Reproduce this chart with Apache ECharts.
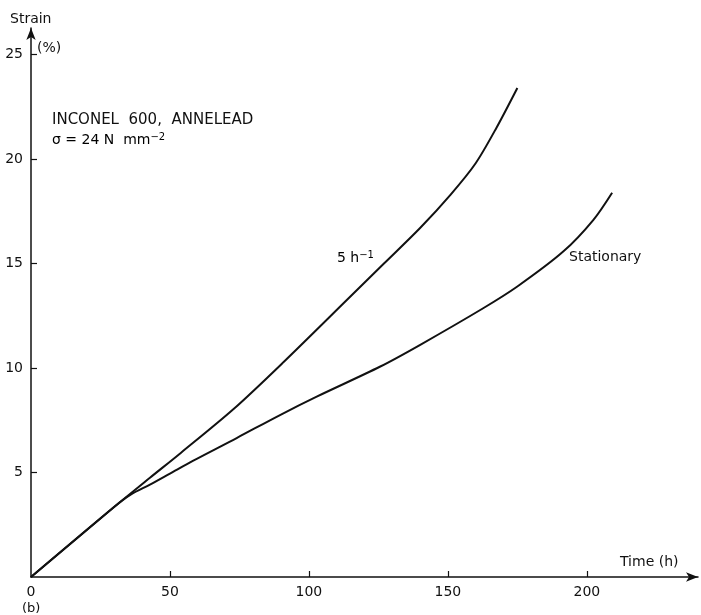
<!DOCTYPE html>
<html>
<head>
<meta charset="utf-8">
<script src="https://cdn.jsdelivr.net/npm/echarts@6/dist/echarts.min.js"></script>
<style>
html,body{margin:0;padding:0;background:#fff;}
#chart{width:701px;height:615px;}
</style>
</head>
<body>
<div id="chart"></div>
<script>
// Data
const timeFast   = [0, 30, 42.8, 54, 73, 91, 114, 127, 140, 151, 160, 167.5, 175];
const strainFast = [0, 3.36, 4.75, 5.95, 8.05, 10.3, 13.3, 15.0, 16.7, 18.3, 19.8, 21.5, 23.4];
const timeStat   = [0, 30, 36, 42.8, 50, 58.4, 74, 89.6, 102.8, 125.5, 139.9, 162.7, 175, 191.5, 202.3, 209.1];
const strainStat = [0, 3.36, 3.95, 4.42, 4.95, 5.57, 6.65, 7.75, 8.63, 10.06, 11.1, 12.86, 13.9, 15.57, 17.08, 18.39];
const xTickValues = [0, 50, 100, 150, 200];
const yTickValues = [5, 10, 15, 20, 25];

const FONT = 'DejaVu Sans';
const pair = (xs, ys) => xs.map((x, i) => [x, ys[i]]);

const chart = echarts.init(document.getElementById('chart'), null, {renderer: 'canvas'});
chart.setOption({
  animation: false,
  backgroundColor: '#fff',
  grid: {left: 31, right: 3, top: 28, bottom: 38, containLabel: false},
  xAxis: {
    type: 'value', min: 0, max: 240,
    axisLine: {show: true, symbol: ['none', 'arrow'], symbolSize: [7, 12], lineStyle: {color: '#111', width: 1.5}},
    axisTick: {show: true, inside: true, length: 6, customValues: [50, 100, 150, 200], lineStyle: {color: '#111', width: 1.2}},
    axisLabel: {customValues: xTickValues, color: '#111', fontFamily: FONT, fontSize: 14, margin: 8},
    splitLine: {show: false}
  },
  yAxis: {
    type: 'value', min: 0, max: 26.27,
    axisLine: {show: true, symbol: ['none', 'arrow'], symbolSize: [7, 12], lineStyle: {color: '#111', width: 1.5}},
    axisTick: {show: true, inside: true, length: 6, customValues: yTickValues, lineStyle: {color: '#111', width: 1.2}},
    axisLabel: {customValues: yTickValues, color: '#111', fontFamily: FONT, fontSize: 14, margin: 8},
    splitLine: {show: false}
  },
  series: [
    {name: '5 h-1', type: 'line', data: pair(timeFast, strainFast), smooth: 0.3, showSymbol: false,
     lineStyle: {color: '#111', width: 2}},
    {name: 'Stationary', type: 'line', data: pair(timeStat, strainStat), smooth: 0.3, showSymbol: false,
     lineStyle: {color: '#111', width: 2}}
  ],
  graphic: [
    {type: 'text', left: 10, top: 12, style: {text: 'Strain', font: '14px "DejaVu Sans"', fill: '#111'}},
    {type: 'text', left: 37, top: 41, style: {text: '(%)', font: '14px "DejaVu Sans"', fill: '#111'}},
    {type: 'text', left: 620, top: 555, style: {text: 'Time (h)', font: '14px "DejaVu Sans"', fill: '#111'}},
    {type: 'text', left: 22, top: 602, style: {text: '(b)', font: '13px "DejaVu Sans"', fill: '#111'}},
    {type: 'text', left: 52, top: 113, style: {text: 'INCONEL  600,  ANNELEAD', font: '15px "DejaVu Sans"', fill: '#111'}},
    {type: 'text', left: 52, top: 132, style: {
      text: '{a|σ = 24 N  mm}{s|−2}',
      rich: {a: {fontFamily: FONT, fontSize: 14, color: '#111'}, s: {fontFamily: FONT, fontSize: 10, color: '#111', padding: [0, 0, 6, 0]}}
    }},
    {type: 'text', left: 337, top: 250, style: {
      text: '{a|5 h}{s|−1}',
      rich: {a: {fontFamily: FONT, fontSize: 14, color: '#111'}, s: {fontFamily: FONT, fontSize: 10, color: '#111', padding: [0, 0, 6, 0]}}
    }},
    {type: 'text', left: 569, top: 250, style: {text: 'Stationary', font: '14px "DejaVu Sans"', fill: '#111'}}
  ]
});
</script>
</body>
</html>
